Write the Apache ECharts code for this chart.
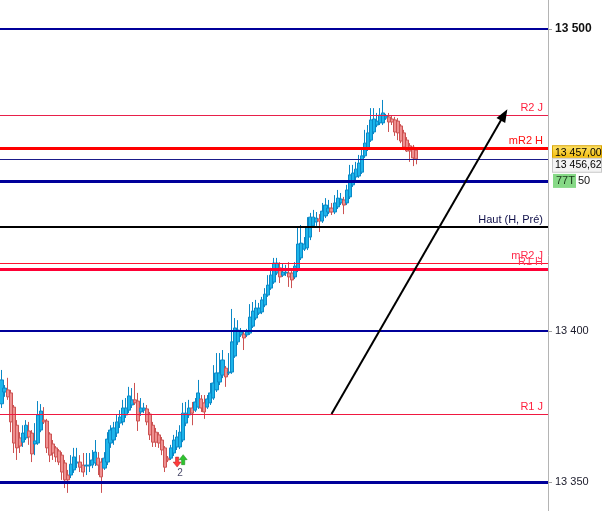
<!DOCTYPE html>
<html>
<head>
<meta charset="utf-8">
<script src="https://cdn.jsdelivr.net/npm/echarts@6/dist/echarts.min.js"></script>
<style>
  html, body { margin: 0; padding: 0; background: #fff; }
  #chart { width: 605px; height: 511px; }
</style>
</head>
<body>
<div id="chart"></div>
<script>
// bar slots (data bars plus empty space on the right)
const slots = Array.from({ length: 181 }, (_, i) => String(i + 1));

const opens = [
  13375.9, 13379.8, 13380.5, 13379.5, 13374.8, 13368.8, 13364.6, 13363.2, 13364.6, 13366.9,
  13366.2, 13362.6, 13362.9, 13367.2, 13370.5, 13370.2, 13365.9, 13362.6, 13361.3, 13360.3,
  13358.9, 13356.3, 13352.3, 13352.3, 13354.0, 13356.3, 13356.6, 13355.6, 13355.3, 13355.3,
  13355.6, 13356.3, 13357.9, 13356.6, 13354.6, 13356.6, 13362.9, 13363.9, 13366.2, 13369.5,
  13369.9, 13372.2, 13373.8, 13375.5, 13377.2, 13376.8, 13373.2, 13373.8, 13374.2, 13372.5,
  13368.8, 13366.5, 13365.6, 13363.9, 13361.3, 13357.9, 13357.9, 13359.6, 13361.6, 13361.6,
  13363.9, 13369.5, 13372.2, 13374.5, 13373.8, 13374.8, 13377.5, 13376.2, 13374.8, 13376.2,
  13377.8, 13380.5, 13383.1, 13385.4, 13387.7, 13386.1, 13386.4, 13391.7, 13396.4, 13398.7,
  13399.0, 13398.7, 13399.3, 13401.6, 13404.3, 13405.9, 13406.3, 13408.6, 13411.9, 13414.2,
  13416.2, 13419.2, 13420.9, 13418.5, 13419.2, 13419.2, 13419.2, 13417.9, 13420.2, 13424.2,
  13427.1, 13427.5, 13431.1, 13434.8, 13436.1, 13437.1, 13436.4, 13438.1, 13439.4, 13440.7,
  13439.4, 13441.1, 13442.4, 13443.4, 13442.4, 13444.4, 13448.4, 13451.0, 13451.3, 13452.6,
  13458.0, 13460.3, 13463.2, 13465.9, 13468.2, 13468.9, 13468.9, 13470.5, 13470.9, 13470.2,
  13469.9, 13469.5, 13467.9, 13465.6, 13463.2, 13461.3, 13460.9, 13459.9
];
const closes = [
  13383.8, 13381.1, 13378.2, 13369.9, 13362.9, 13361.3, 13361.9, 13366.2, 13368.8, 13364.9,
  13359.3, 13363.6, 13372.2, 13373.5, 13369.9, 13361.3, 13358.9, 13359.6, 13358.3, 13356.6,
  13353.3, 13350.7, 13350.7, 13355.9, 13358.3, 13356.6, 13354.9, 13353.3, 13355.6, 13355.6,
  13357.3, 13359.9, 13355.6, 13351.7, 13357.9, 13364.2, 13367.2, 13367.9, 13369.9, 13371.5,
  13374.5, 13374.5, 13378.5, 13377.2, 13376.2, 13370.2, 13374.5, 13374.5, 13369.9, 13365.6,
  13363.2, 13363.2, 13362.9, 13360.6, 13354.9, 13357.3, 13361.3, 13363.9, 13364.9, 13366.5,
  13372.8, 13372.8, 13374.5, 13372.8, 13376.5, 13379.5, 13374.5, 13373.2, 13377.5, 13379.5,
  13382.8, 13386.1, 13386.1, 13390.4, 13384.8, 13386.4, 13396.4, 13401.0, 13400.3, 13399.7,
  13397.7, 13399.7, 13404.6, 13406.6, 13407.6, 13407.6, 13410.3, 13412.2, 13415.2, 13418.5,
  13422.5, 13422.5, 13417.9, 13419.5, 13419.5, 13417.9, 13416.9, 13421.5, 13428.8, 13429.1,
  13428.8, 13434.4, 13437.7, 13437.7, 13437.4, 13436.4, 13439.7, 13441.7, 13440.7, 13439.4,
  13442.4, 13444.0, 13443.7, 13441.7, 13446.7, 13451.7, 13452.3, 13453.6, 13455.6, 13458.0,
  13462.2, 13465.6, 13469.9, 13470.2, 13469.5, 13471.5, 13472.2, 13471.2, 13469.2, 13469.2,
  13465.9, 13465.6, 13462.9, 13460.9, 13459.6, 13459.6, 13457.3, 13457.0
];
const lows = [
  13374.5, 13378.2, 13377.2, 13366.5, 13359.6, 13357.3, 13359.6, 13361.6, 13363.9, 13362.3,
  13356.6, 13358.9, 13362.3, 13366.5, 13369.2, 13359.6, 13356.6, 13357.3, 13356.6, 13355.6,
  13350.7, 13348.0, 13346.4, 13351.3, 13353.0, 13354.6, 13353.3, 13351.7, 13352.3, 13353.3,
  13354.6, 13355.3, 13352.3, 13346.4, 13354.0, 13355.6, 13361.3, 13362.3, 13364.9, 13367.9,
  13368.8, 13371.2, 13372.8, 13374.5, 13375.5, 13366.9, 13371.9, 13372.8, 13368.8, 13363.9,
  13361.6, 13361.6, 13361.3, 13358.9, 13353.3, 13356.6, 13357.3, 13358.6, 13360.6, 13360.9,
  13363.2, 13368.5, 13371.2, 13368.8, 13373.2, 13374.2, 13373.2, 13370.9, 13374.2, 13375.5,
  13377.2, 13379.8, 13382.1, 13384.4, 13381.5, 13385.4, 13385.8, 13391.1, 13395.4, 13398.0,
  13393.7, 13398.0, 13398.7, 13401.0, 13403.6, 13405.3, 13405.6, 13407.9, 13411.3, 13413.6,
  13415.6, 13418.5, 13415.9, 13417.9, 13418.2, 13414.6, 13414.2, 13417.2, 13419.5, 13423.5,
  13426.5, 13426.8, 13430.1, 13434.1, 13434.8, 13432.8, 13435.8, 13437.4, 13438.7, 13438.4,
  13438.7, 13440.4, 13441.7, 13438.7, 13441.7, 13443.7, 13447.7, 13450.0, 13450.7, 13452.0,
  13457.3, 13459.6, 13462.6, 13465.2, 13467.5, 13468.2, 13468.2, 13469.9, 13465.9, 13468.2,
  13464.6, 13463.2, 13462.2, 13459.9, 13459.3, 13456.0, 13454.6, 13455.2
];
const highs = [
  13387.1, 13382.1, 13384.5, 13380.5, 13375.5, 13370.5, 13366.5, 13368.8, 13370.5, 13369.9,
  13367.2, 13369.5, 13376.8, 13375.8, 13374.8, 13370.9, 13366.5, 13363.9, 13361.9, 13360.9,
  13359.9, 13357.3, 13354.0, 13358.9, 13361.3, 13361.3, 13358.9, 13359.6, 13359.6, 13359.6,
  13360.6, 13363.9, 13359.9, 13357.9, 13359.9, 13366.5, 13368.8, 13369.9, 13372.2, 13373.8,
  13377.2, 13377.8, 13381.5, 13381.1, 13382.8, 13379.5, 13377.8, 13376.2, 13375.5, 13373.2,
  13369.9, 13367.9, 13366.5, 13364.9, 13361.9, 13358.6, 13362.3, 13365.6, 13367.2, 13368.8,
  13376.2, 13376.5, 13377.2, 13376.5, 13377.8, 13383.8, 13378.8, 13378.8, 13378.8, 13382.8,
  13388.7, 13392.7, 13392.7, 13393.7, 13388.4, 13392.7, 13407.3, 13404.3, 13403.6, 13401.0,
  13400.3, 13400.7, 13408.9, 13409.6, 13410.3, 13409.3, 13411.3, 13414.2, 13418.5, 13420.9,
  13424.2, 13424.2, 13422.8, 13422.5, 13421.9, 13422.8, 13420.2, 13422.8, 13434.1, 13435.1,
  13431.1, 13437.7, 13439.1, 13440.1, 13439.4, 13438.7, 13442.4, 13444.0, 13443.4, 13442.4,
  13445.0, 13446.7, 13445.7, 13444.4, 13448.4, 13455.0, 13455.0, 13456.0, 13458.3, 13460.6,
  13466.6, 13468.2, 13473.8, 13473.8, 13472.2, 13473.8, 13476.5, 13471.9, 13472.2, 13471.5,
  13470.9, 13470.5, 13468.5, 13466.6, 13464.2, 13462.2, 13461.6, 13460.6
];

// horizontal levels
const levelNames = ['', 'R2 J', 'mR2 H', '', '', 'Haut (H, Pré)', 'mR2 J', 'R1 H', '', 'R1 J', ''];
const levelValues = [13500, 13471.5, 13460.6, 13457.0, 13449.7, 13434.4, 13422.5, 13420.5, 13400, 13372.5, 13350];

const axisTicks = [13350, 13400, 13500];
const lastPrice = 13457.0;
const bidPrice = 13456.62;
const counterValue = 13449.7;
const counterText = ['77T', '50'];

// trend arrow [bar index, price]
const arrowFrom = [108.5, 13372.5];
const arrowTo = [166.3, 13471.6];

// signal markers [bar index, price]
const sellSignal = [58, 13356.6];
const buySignal = [60, 13357.4];
const signalCount = [59, 13353.0];

const levelStyle = [
  { color: '#00009a', width: 2, text: '#00009a' },
  { color: '#e8204a', width: 1, text: '#ff1f3d' },
  { color: '#ff0000', width: 3, text: '#ff1010' },
  { color: '#1a1a8a', width: 1, text: '#1a1a8a' },
  { color: '#00009a', width: 3, text: '#00009a' },
  { color: '#000000', width: 2, text: '#10104a' },
  { color: '#ff1030', width: 1, text: '#ff2a4a' },
  { color: '#ff0035', width: 3, text: '#ff3a5a' },
  { color: '#00009a', width: 2, text: '#00009a' },
  { color: '#f01840', width: 1, text: '#ff1f3d' },
  { color: '#00009a', width: 3, text: '#00009a' },
];

const FONT = '"Liberation Sans", Arial, sans-serif';

function spaced(v) {
  return String(Math.round(v)).replace(/\B(?=(\d{3})+(?!\d))/g, ' ');
}

function decimal(v) {
  const parts = v.toFixed(2).split('.');
  return spaced(Number(parts[0])) + ',' + parts[1];
}

const candles = opens.map((o, i) => [o, closes[i], lows[i], highs[i]]);

const levelLines = levelValues.map((v, i) => ({
  yAxis: v,
  lineStyle: { color: levelStyle[i].color, width: levelStyle[i].width, type: 'solid' },
  label: {
    show: levelNames[i] !== '',
    formatter: levelNames[i],
    position: 'insideEndTop',
    distance: [5, 2],
    color: levelStyle[i].text,
    fontSize: 11,
    fontFamily: FONT,
  },
  emphasis: { disabled: true },
}));

const arrowLine = [
  { coord: arrowFrom, symbol: 'none' },
  { coord: arrowTo, symbol: 'triangle', symbolSize: [10, 13] },
];

const chart = echarts.init(document.getElementById('chart'));

chart.setOption({
  animation: false,
  backgroundColor: '#ffffff',
  grid: { left: 0, right: 57, top: 0, bottom: 0, outerBoundsMode: 'none', containLabel: false },
  xAxis: {
    type: 'category',
    data: slots,
    boundaryGap: true,
    show: false,
  },
  yAxis: [
    {
      type: 'value',
      position: 'right',
      min: 13340.4,
      max: 13509.6,
      scale: true,
      splitLine: { show: false },
      axisLine: { show: true, lineStyle: { color: '#b4b4b4', width: 1 } },
      axisTick: { show: true, length: 4, lineStyle: { color: '#a0a0a0' }, customValues: axisTicks },
      axisLabel: {
        customValues: axisTicks,
        margin: 7,
        formatter: (v) => (v === 13500 ? '{b|' + spaced(v) + '}' : '{n|' + spaced(v) + '}'),
        rich: {
          b: { fontFamily: FONT, fontSize: 12, fontWeight: 'bold', color: '#111' },
          n: { fontFamily: FONT, fontSize: 11, color: '#1a1a2a' },
        },
      },
    },
    {
      type: 'value',
      position: 'right',
      min: 13340.4,
      max: 13509.6,
      scale: true,
      splitLine: { show: false },
      axisLine: { show: false },
      axisTick: { show: false },
      axisLabel: {
        customValues: [lastPrice, counterValue],
        margin: 5,
        hideOverlap: false,
        formatter: (v) => {
          if (v === lastPrice) {
            return '{gold|' + decimal(lastPrice) + '}\n{gray|' + decimal(bidPrice) + '}';
          }
          return '{green|' + counterText[0] + '}{num|' + counterText[1] + '}';
        },
        rich: {
          gold: {
            fontFamily: FONT, fontSize: 10.5, color: '#000',
            backgroundColor: {
              type: 'linear', x: 0, y: 0, x2: 0, y2: 1,
              colorStops: [{ offset: 0, color: '#ffe36a' }, { offset: 1, color: '#f2b800' }],
            },
            borderColor: '#d9a400', borderWidth: 1,
            width: 46, height: 11, padding: [1, 0, 0, 2], lineHeight: 13,
          },
          gray: {
            fontFamily: FONT, fontSize: 10.5, color: '#000',
            backgroundColor: '#f4f4f4', borderColor: '#c8c8c8', borderWidth: 1,
            width: 46, height: 11, padding: [1, 0, 1, 2], lineHeight: 13,
          },
          green: {
            fontFamily: FONT, fontSize: 11, color: '#1a3a1a',
            backgroundColor: '#86d986', width: 18, height: 12, padding: [1, 2, 1, 3],
          },
          num: { fontFamily: FONT, fontSize: 11, color: '#111', padding: [0, 0, 0, 2] },
        },
      },
    },
  ],
  series: [
    {
      type: 'candlestick',
      data: candles,
      barWidth: 3.6,
      itemStyle: {
        color: '#1cb4ea',
        color0: '#ee9090',
        borderColor: '#0a88c6',
        borderColor0: '#cc5252',
        borderWidth: 1,
      },
      emphasis: { disabled: true },
      markLine: {
        silent: true,
        symbol: 'none',
        animation: false,
        data: [
          ...levelLines,
          [
            { ...arrowLine[0], lineStyle: { color: '#000', width: 2, type: 'solid' }, label: { show: false } },
            { ...arrowLine[1] },
          ],
        ],
      },
      markPoint: {
        silent: true,
        animation: false,
        data: [
          {
            coord: sellSignal,
            symbol: 'path://M3,0 L7,0 L7,6 L10,6 L5,12 L0,6 L3,6 Z',
            symbolSize: [8, 10],
            itemStyle: { color: '#ff3b3b', borderColor: '#b02020', borderWidth: 0.5 },
            label: { show: false },
          },
          {
            coord: buySignal,
            symbol: 'path://M5,0 L10,6 L7,6 L7,12 L3,12 L3,6 L0,6 Z',
            symbolSize: [8, 10],
            itemStyle: { color: '#2ec42e', borderColor: '#148014', borderWidth: 0.5 },
            label: { show: false },
          },
          {
            coord: signalCount,
            symbol: 'circle',
            symbolSize: 1,
            itemStyle: { color: 'rgba(0,0,0,0)' },
            label: {
              show: true, position: 'inside', formatter: '2',
              color: '#4a4a6a', fontSize: 10, fontFamily: FONT,
            },
          },
        ],
      },
    },
  ],
});
</script>
</body>
</html>
